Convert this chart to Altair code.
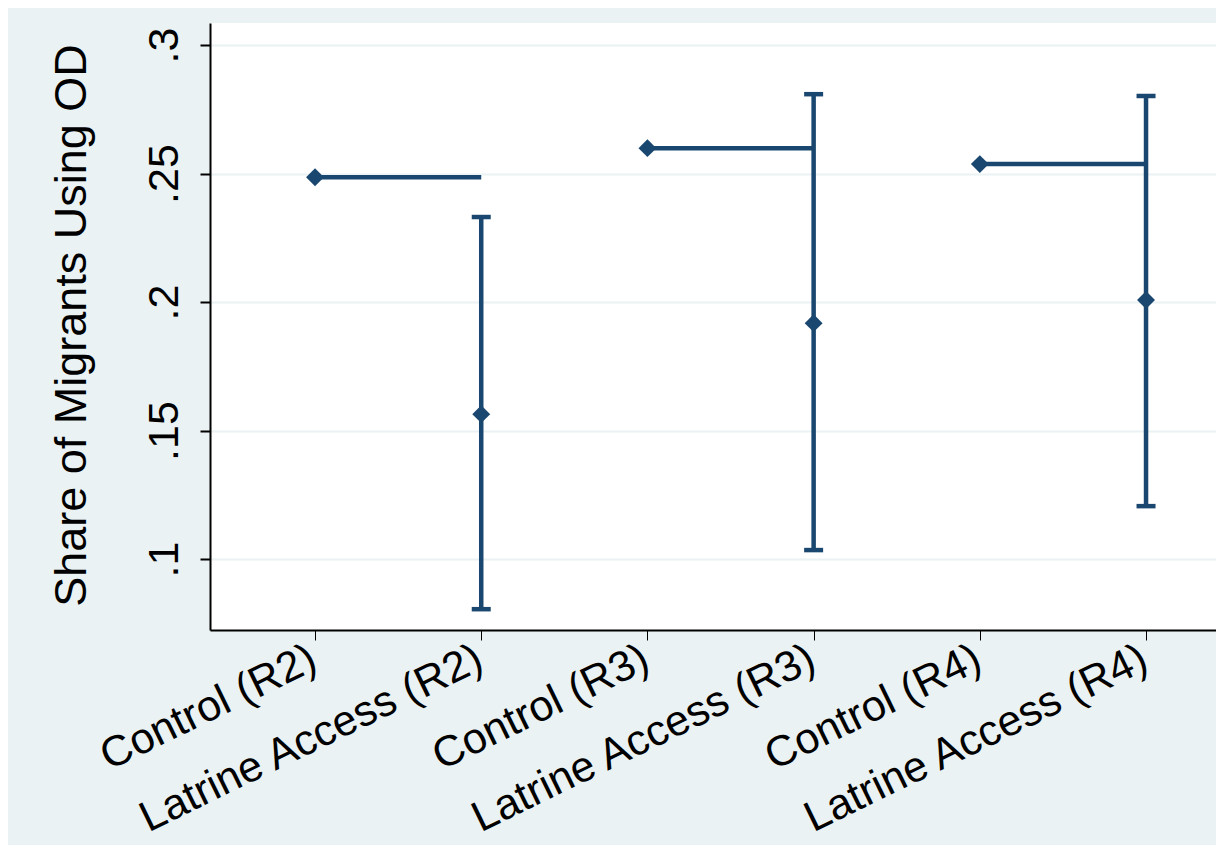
import altair as alt
import pandas as pd

groups = ["Control (R2)", "Latrine Access (R2)", "Control (R3)",
          "Latrine Access (R3)", "Control (R4)", "Latrine Access (R4)"]
control_idx = [0, 2, 4]
control_vals = [0.2486, 0.2599, 0.2537]
treat_idx = [1, 3, 5]
treat_vals = [0.1564, 0.1918, 0.2008]
treat_lo = [0.0805, 0.1035, 0.1206]
treat_hi = [0.2331, 0.2809, 0.2802]
y_ticks = [0.1, 0.15, 0.2, 0.25, 0.3]

NAVY = "#1a476f"
BG = "#EAF2F3"
FONT = "Liberation Sans"

ctrl = pd.DataFrame({"x": control_idx, "x2": [i + 1 for i in control_idx], "y": control_vals})
treat = pd.DataFrame({"x": treat_idx, "y": treat_vals, "lo": treat_lo, "hi": treat_hi})
caps = pd.DataFrame({"x": treat_idx * 2, "y": treat_lo + treat_hi})
points = pd.DataFrame({"x": control_idx + treat_idx, "y": control_vals + treat_vals})

label_arr = "[" + ",".join("'" + g + "'" for g in groups) + "]"

xscale = alt.Scale(domain=[-0.632, 5.421], nice=False, zero=False)
yscale = alt.Scale(domain=[0.0724, 0.3086], nice=False, zero=False)

xaxis = alt.Axis(values=list(range(6)), labelExpr=label_arr + "[datum.value]",
                 labelAngle=-26, labelAlign="right", labelBaseline="top",
                 labelFontSize=43, labelFont=FONT, labelColor="black",
                 labelPadding=-3, labelOffset=-11, labelLimit=2000,
                 tickSize=10, tickWidth=1,
                 tickColor="black", domainColor="black", domainWidth=2,
                 grid=False, title=None,
                 labelOverlap=False, labelBound=False, labelFlush=False)
yaxis = alt.Axis(values=y_ticks, labelExpr="substring(format(datum.value,'.2~f'),1)",
                 labelAngle=270, labelAlign="center", labelBaseline="alphabetic",
                 labelFontSize=43, labelFont=FONT, labelColor="black",
                 labelPadding=23, labelLimit=2000, tickSize=10, tickWidth=2,
                 tickColor="black", domainColor="black", domainWidth=2,
                 grid=True, gridColor=BG,
                 gridWidth=2, title="Share of Migrants Using OD",
                 titleFont=FONT, titleFontSize=45, titleFontWeight="normal",
                 titleColor="black", titleAngle=270, titleAlign="center",
                 titleBaseline="alphabetic", titleX=-125, titleY=302,
                 titleLimit=2000, labelOverlap=False, labelFlush=False)

X = alt.X("x:Q", scale=xscale, axis=xaxis)
Y = alt.Y("y:Q", scale=yscale, axis=yaxis)

ctrl_rule = alt.Chart(ctrl).mark_rule(color=NAVY, strokeWidth=4.5).encode(
    x=X, x2="x2:Q", y=Y)
ci_rule = alt.Chart(treat).mark_rule(color=NAVY, strokeWidth=4.5).encode(
    x=X, y=alt.Y("lo:Q", scale=yscale, axis=yaxis), y2="hi:Q")
cap_ticks = alt.Chart(caps).mark_tick(color=NAVY, orient="horizontal", size=19,
                                      thickness=4.5, opacity=1).encode(x=X, y=Y)
pts = alt.Chart(points).mark_point(shape="diamond", filled=True, size=320,
                                   color=NAVY, opacity=1).encode(x=X, y=Y)

chart = alt.layer(ctrl_rule, ci_rule, cap_ticks, pts).properties(
    width=1006, height=607,
    padding={"left": 202, "top": 15, "right": 0, "bottom": 215},
    autosize=alt.AutoSizeParams(type="none"),
    background=BG,
).configure_view(fill="white", stroke=None)

chart.save("out.html", embed_options={"renderer": "svg", "actions": False})
